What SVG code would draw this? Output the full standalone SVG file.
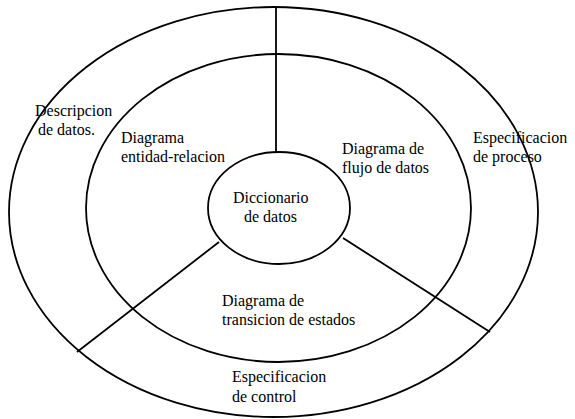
<svg xmlns="http://www.w3.org/2000/svg" width="575" height="419" viewBox="0 0 575 419">
<style>
.s{fill:none;stroke:#000;stroke-width:1.8}
.t{font-family:"Liberation Serif","Times New Roman",serif;font-size:16px;fill:#000}
</style>
<rect width="575" height="419" fill="#fff"/>
<g id="outer"><ellipse class="s" cx="273.5" cy="212" rx="264.5" ry="205"/>
<text class="t" x="35" y="116">Descripcion</text>
<text class="t" x="38" y="135">de datos.</text>
<text class="t" x="473" y="143">Especificacion</text>
<text class="t" x="473" y="162">de proceso</text>
<text class="t" x="232" y="382">Especificacion</text>
<text class="t" x="232" y="402">de control</text>
</g>
<g id="middle"><ellipse class="s" cx="278.5" cy="208" rx="192.5" ry="154"/>
<text class="t" x="121" y="143">Diagrama</text>
<text class="t" x="121" y="162">entidad-relacion</text>
<text class="t" x="342" y="154">Diagrama de</text>
<text class="t" x="342" y="173">flujo de datos</text>
<text class="t" x="222" y="306">Diagrama de</text>
<text class="t" x="222" y="325">transicion de estados</text>
</g>
<g id="center"><ellipse class="s" cx="279" cy="208" rx="71" ry="56"/>
<text class="t" x="233" y="203">Diccionario</text>
<text class="t" x="244" y="222">de datos</text>
</g>
<g id="connectors">
<line class="s" x1="276" y1="7" x2="276" y2="152"/>
<line class="s" x1="219" y1="242" x2="77" y2="352"/>
<line class="s" x1="343" y1="238" x2="490" y2="332"/>
</g>
</svg>
